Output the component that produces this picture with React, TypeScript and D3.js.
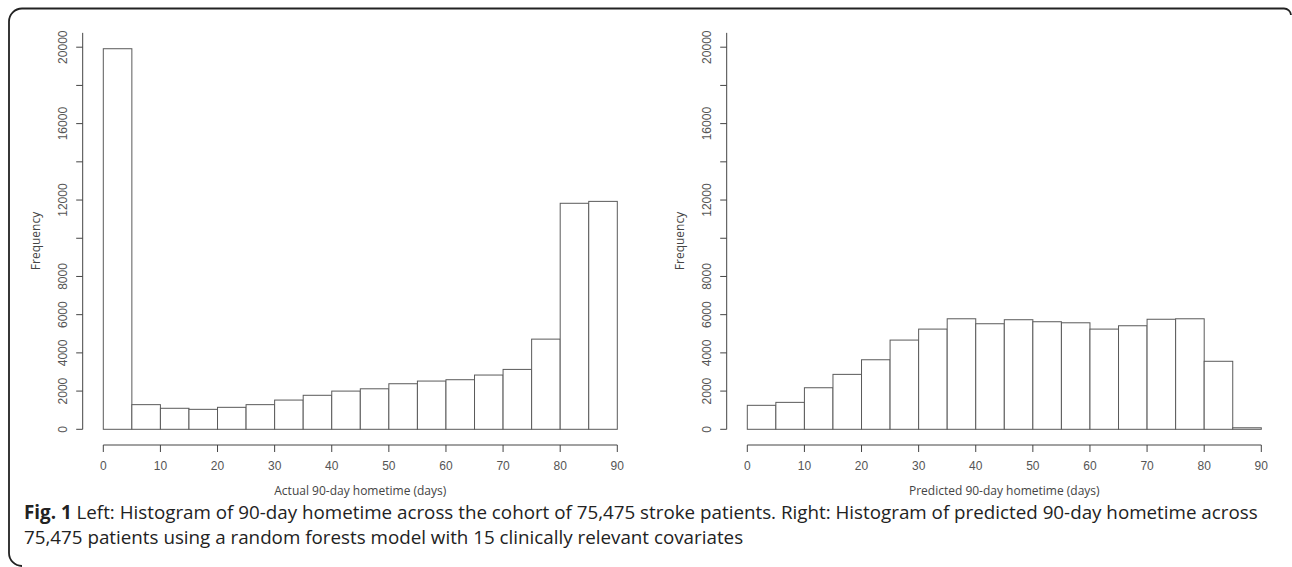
import React from "react";
import * as d3 from "d3";

// Histogram data (5-day bins from 0 to 90)
const binEdges = [0, 5, 10, 15, 20, 25, 30, 35, 40, 45, 50, 55, 60, 65, 70, 75, 80, 85, 90];
const actualCounts = [19920, 1290, 1100, 1045, 1150, 1290, 1530, 1780, 2000, 2120, 2385, 2525, 2595, 2840, 3135, 4720, 11830, 11930];
const predictedCounts = [1255, 1410, 2175, 2875, 3640, 4670, 5245, 5785, 5525, 5735, 5630, 5575, 5245, 5420, 5760, 5785, 3560, 80];

const xTicks = [0, 10, 20, 30, 40, 50, 60, 70, 80, 90];
const yTicks = [0, 2000, 4000, 6000, 8000, 10000, 12000, 14000, 16000, 18000, 20000];
const yTickLabels = [0, 2000, 4000, 6000, 8000, 12000, 16000, 20000];

const panelTitles = ["Actual 90-day hometime (days)", "Predicted 90-day hometime (days)"];
const yTitle = "Frequency";
const captionBold = "Fig. 1";
const captionLine1 = " Left: Histogram of 90-day hometime across the cohort of 75,475 stroke patients. Right: Histogram of predicted 90-day hometime across";
const captionLine2 = "75,475 patients using a random forests model with 15 clinically relevant covariates";

const W = 1292;
const H = 567;
const AXIS_TOP_VALUE = 20750;

const BAR_STROKE = "#5a5a5a";
const AXIS_STROKE = "#444";
const TEXT = "#555";

function Panel({ counts, offsetX, title }: { counts: number[]; offsetX: number; title: string }) {
  const x = d3.scaleLinear().domain([0, 90]).range([103.3 + offsetX, 617.3 + offsetX]);
  const y = d3.scaleLinear().domain([0, 20000]).range([429.3, 47.2]);
  const axisX = 82.7 + offsetX;
  const xAxisY = 445;
  const tickFont = "'Liberation Sans', Arial, sans-serif";
  const labelFont = "'Open Sans', sans-serif";
  return (
    <g>
      {counts.map((c, i) => {
        const x0 = x(binEdges[i]);
        const x1 = x(binEdges[i + 1]);
        const yt = y(c);
        return (
          <rect
            key={i}
            x={x0}
            y={yt}
            width={x1 - x0}
            height={y(0) - yt}
            fill="white"
            stroke={BAR_STROKE}
            strokeWidth={1}
          />
        );
      })}
      {/* y axis */}
      <line x1={axisX} x2={axisX} y1={y(0)} y2={y(AXIS_TOP_VALUE)} stroke={AXIS_STROKE} strokeWidth={1} />
      {yTicks.map((t) => (
        <line key={t} x1={axisX - 6.5} x2={axisX} y1={y(t)} y2={y(t)} stroke={AXIS_STROKE} strokeWidth={1} />
      ))}
      {yTickLabels.map((t) => (
        <text
          key={t}
          transform={`translate(${axisX - 19.5},${y(t)}) rotate(-90)`}
          textAnchor="middle"
          dominantBaseline="central"
          fontFamily={tickFont}
          fontSize={12}
          fill={TEXT}
        >
          {t}
        </text>
      ))}
      <text
        transform={`translate(${35 + offsetX},241) rotate(-90)`}
        textAnchor="middle"
        dominantBaseline="central"
        fontFamily={labelFont}
        fontSize={12}
        fill="#444"
      >
        {yTitle}
      </text>
      {/* x axis */}
      <line x1={x(0)} x2={x(90)} y1={xAxisY} y2={xAxisY} stroke={AXIS_STROKE} strokeWidth={1} />
      {xTicks.map((t) => (
        <line key={t} x1={x(t)} x2={x(t)} y1={xAxisY} y2={xAxisY + 7} stroke={AXIS_STROKE} strokeWidth={1} />
      ))}
      {xTicks.map((t) => (
        <text
          key={t}
          x={x(t)}
          y={466}
          textAnchor="middle"
          dominantBaseline="central"
          fontFamily={tickFont}
          fontSize={12}
          fill={TEXT}
        >
          {t}
        </text>
      ))}
      <text
        x={(x(0) + x(90)) / 2}
        y={490}
        textAnchor="middle"
        dominantBaseline="central"
        fontFamily={labelFont}
        fontSize={12}
        fill="#444"
      >
        {title}
      </text>
    </g>
  );
}

export default function App() {
  return (
    <svg
      width={W}
      height={H}
      viewBox={`0 0 ${W} ${H}`}
      style={{ position: "absolute", left: 0, top: 0, background: "white", display: "block" }}
    >
      <rect x={0} y={0} width={W} height={H} fill="white" />
      <path
        d="M1291,15 A7,7 0 0 0 1284,8.5 H22 A13,13 0 0 0 9,21.5 V553 A13,13 0 0 0 22,566"
        fill="none"
        stroke="#222"
        strokeWidth={1.8}
      />
      <Panel counts={actualCounts} offsetX={0} title={panelTitles[0]} />
      <Panel counts={predictedCounts} offsetX={644} title={panelTitles[1]} />
      <text x={24} y={519} fontFamily="'Open Sans', sans-serif" fontSize={18.8} fill="#222">
        <tspan fontWeight="bold">{captionBold}</tspan>
        <tspan>{captionLine1}</tspan>
      </text>
      <text x={24} y={544} fontFamily="'Open Sans', sans-serif" fontSize={18.8} fill="#222">
        {captionLine2}
      </text>
    </svg>
  );
}
